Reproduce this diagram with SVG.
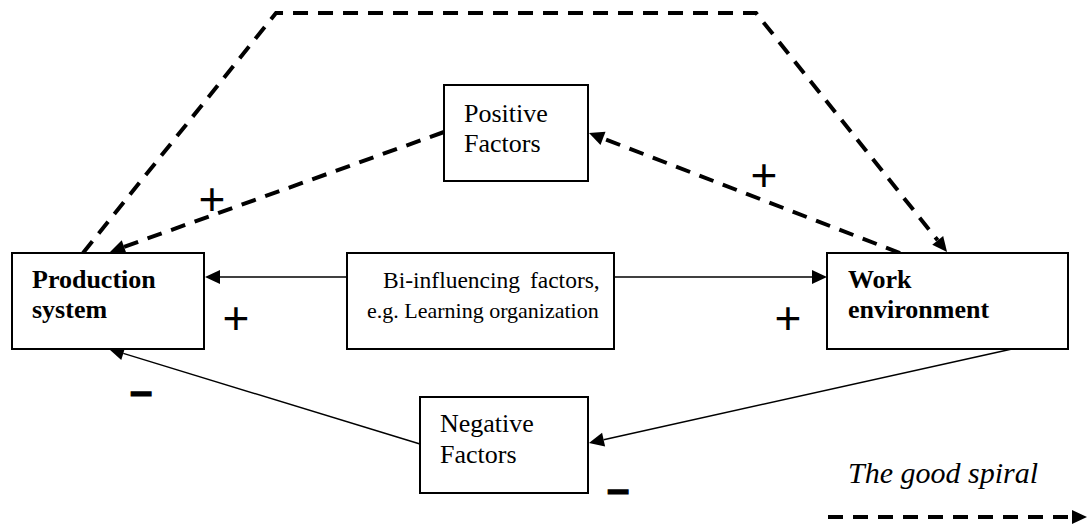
<svg xmlns="http://www.w3.org/2000/svg" width="1087" height="525" viewBox="0 0 1087 525">
  <style>
    .box { fill: #fff; stroke: #000; stroke-width: 2; }
    .lbl { font-family: "Liberation Serif", "Times New Roman", serif; font-size: 26px; fill: #000; }
    .bold { font-weight: bold; }
    .mid { font-size: 22px; }
    .mid1 { font-size: 23.5px; word-spacing: 4px; }
    .solid { fill: none; stroke: #000; stroke-width: 1.5; }
    .dash { fill: none; stroke: #000; stroke-width: 4; stroke-dasharray: 15 10; }
    .plus { font-family: "Liberation Sans", Arial, sans-serif; font-size: 46px; fill: #000; text-anchor: middle; }
    .minus { font-family: "Liberation Sans", Arial, sans-serif; font-size: 40px; font-weight: bold; fill: #000; stroke: #000; stroke-width: 1.2; }
    .legend { font-family: "Liberation Serif", "Times New Roman", serif; font-size: 30px; font-style: italic; fill: #000; }
  </style>
  <defs>
    <!-- arrowhead: base sits at the line end, tip 15px ahead -->
    <marker id="head" markerUnits="userSpaceOnUse" viewBox="0 -8 16 16" markerWidth="16" markerHeight="16" refX="0" refY="0" orient="auto" overflow="visible">
      <path d="M0,-7 L15,0 L0,7 Z" fill="#000"/>
    </marker>
  </defs>

  <!-- connectors -->
  <g id="connectors">
    <!-- the good spiral, over the top -->
    <path class="dash" d="M83,253 L276,13 L756,13 L937.7,240.3" marker-end="url(#head)"/>
    <!-- positive factors -> production system -->
    <path class="dash" d="M444,132 L124.1,246.9" marker-end="url(#head)"/>
    <!-- work environment -> positive factors -->
    <path class="dash" d="M900,253 L603,138.4" marker-end="url(#head)"/>
    <!-- bi-influencing factors -> both sides -->
    <path class="solid" d="M347,277 L220,277" marker-end="url(#head)"/>
    <path class="solid" d="M614,277 L812,277" marker-end="url(#head)"/>
    <!-- negative factors -> production system -->
    <path class="solid" d="M420,444 L123.3,353.4" marker-end="url(#head)"/>
    <!-- work environment -> negative factors -->
    <path class="solid" d="M1012,349 L603.6,439.7" marker-end="url(#head)"/>
    <!-- legend arrow -->
    <path class="dash" d="M828,517 L1072,517" marker-end="url(#head)"/>
  </g>

  <g id="production-system">
    <rect class="box" x="12" y="253" width="192" height="96"/>
    <text class="lbl bold" x="32" y="288">Production</text>
    <text class="lbl bold" x="32" y="318">system</text>
  </g>

  <g id="work-environment">
    <rect class="box" x="827" y="253" width="241" height="96"/>
    <text class="lbl bold" x="848" y="288">Work</text>
    <text class="lbl bold" x="848" y="318">environment</text>
  </g>

  <g id="bi-influencing-factors">
    <rect class="box" x="347" y="253" width="267" height="96"/>
    <text class="lbl mid1" x="383" y="288">Bi-influencing factors,</text>
    <text class="lbl mid" x="367" y="318">e.g. Learning organization</text>
  </g>

  <g id="positive-factors">
    <rect class="box" x="444" y="85" width="144" height="96"/>
    <text class="lbl" x="464" y="122">Positive</text>
    <text class="lbl" x="464" y="152">Factors</text>
  </g>

  <g id="negative-factors">
    <rect class="box" x="420" y="397" width="168" height="96"/>
    <text class="lbl" x="440" y="432">Negative</text>
    <text class="lbl" x="440" y="463">Factors</text>
  </g>

  <!-- signs on the links -->
  <g id="signs">
    <text class="plus" x="212" y="215">+</text>
    <text class="plus" x="236" y="334">+</text>
    <text class="plus" x="764" y="191">+</text>
    <text class="plus" x="788" y="334">+</text>
    <text class="minus" x="130" y="405">–</text>
    <text class="minus" x="607" y="503">–</text>
  </g>

  <g id="legend">
    <text class="legend" x="848" y="483">The good spiral</text>
  </g>
</svg>
